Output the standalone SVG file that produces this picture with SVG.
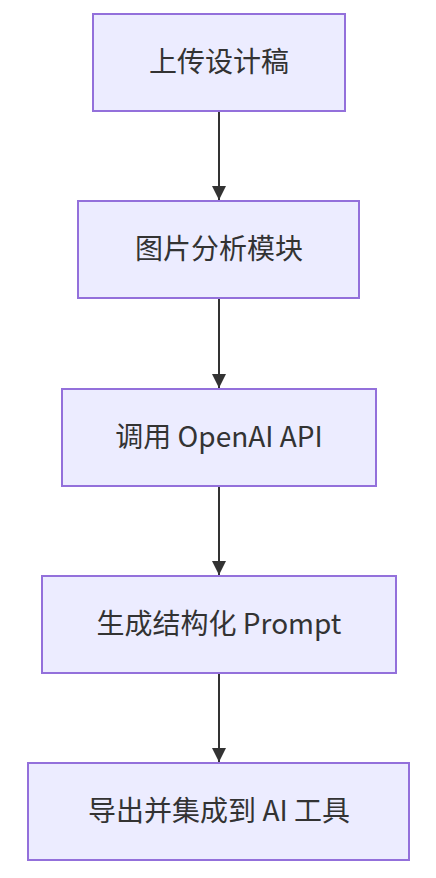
<svg xmlns="http://www.w3.org/2000/svg" width="436" height="878" viewBox="0 0 436 878">
<style>
.node rect{fill:#ECECFF;stroke:#9370DB;stroke-width:2}
.node text{font-family:"Noto Sans CJK SC","Noto Sans",sans-serif;font-size:28px;fill:#333333;text-anchor:middle;dominant-baseline:central}
.edge{stroke:#333333;stroke-width:2;fill:none}
</style>
<defs>
<marker id="arrow" viewBox="0 0 10 10" refX="10" refY="5" markerWidth="7" markerHeight="7" markerUnits="strokeWidth" orient="auto">
<path d="M0,0 L10,5 L0,10 z" fill="#333333"/>
</marker>
</defs>
<rect width="436" height="878" fill="#ffffff"/>
<g id="connectors">
<line class="edge" x1="219" y1="112" x2="219" y2="200" marker-end="url(#arrow)"/>
<line class="edge" x1="219" y1="299" x2="219" y2="388" marker-end="url(#arrow)"/>
<line class="edge" x1="219" y1="487" x2="219" y2="575" marker-end="url(#arrow)"/>
<line class="edge" x1="219" y1="674" x2="219" y2="762" marker-end="url(#arrow)"/>
</g>
<g id="n1" class="node"><rect x="93" y="14" width="252" height="97"/><text x="219" y="60">上传设计稿</text></g>
<g id="n2" class="node"><rect x="78" y="201" width="281" height="97"/><text x="219" y="247">图片分析模块</text></g>
<g id="n3" class="node"><rect x="62" y="389" width="314" height="97"/><text x="219" y="435">调用 OpenAI API</text></g>
<g id="n4" class="node"><rect x="42" y="576" width="354" height="97"/><text x="219" y="622">生成结构化 Prompt</text></g>
<g id="n5" class="node"><rect x="28" y="763" width="381" height="97"/><text x="219" y="809">导出并集成到 AI 工具</text></g>
</svg>
